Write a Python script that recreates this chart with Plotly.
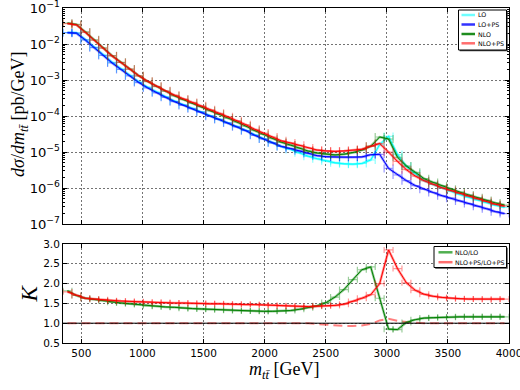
import numpy as np
import plotly.graph_objects as go

# ---------------- data ----------------
m_min, m_max, n_bins = 350.0, 4000.0, 50
edges = np.linspace(m_min, m_max, n_bins + 1)
centers = 0.5 * (edges[:-1] + edges[1:])
half_width = 0.5 * (edges[1:] - edges[:-1])
x_ticks = [500, 1000, 1500, 2000, 2500, 3000, 3500, 4000]
k_ticks = [0.5, 1.0, 1.5, 2.0, 2.5, 3.0]

lo = [2.08e-2, 2.05e-2, 1.33e-2, 8.2e-3, 5.0e-3, 3.1e-3, 2.05e-3, 1.35e-3, 8.9e-4, 6.3e-4,
      4.6e-4, 3.45e-4, 2.6e-4, 2.06e-4, 1.66e-4, 1.33e-4, 1.03e-4, 8.3e-5, 6.6e-5, 5.2e-5,
      4.0e-5, 3.0e-5, 2.35e-5, 1.8e-5, 1.42e-5, 1.18e-5, 9.5e-6, 7.6e-6, 6.5e-6, 5.7e-6,
      5.0e-6, 4.7e-6, 4.6e-6, 4.8e-6, 6.0e-6, 1.6e-5, 2.7e-5, 8.5e-6, 4.0e-6, 2.5e-6,
      1.6e-6, 1.25e-6, 1.0e-6, 8.0e-7, 6.6e-7, 5.5e-7, 4.6e-7, 3.9e-7, 3.3e-7, 2.9e-7]

lo_ps = [2.06e-2, 2.00e-2, 1.29e-2, 7.9e-3, 4.8e-3, 2.97e-3, 1.96e-3, 1.29e-3, 8.5e-4, 6.0e-4,
         4.4e-4, 3.3e-4, 2.5e-4, 1.97e-4, 1.59e-4, 1.28e-4, 9.9e-5, 8.0e-5, 6.4e-5, 5.0e-5,
         3.9e-5, 2.9e-5, 2.3e-5, 1.8e-5, 1.42e-5, 1.25e-5, 1.08e-5, 9.1e-6, 7.9e-6, 7.4e-6,
         7.2e-6, 7.2e-6, 7.2e-6, 7.3e-6, 8.4e-6, 8.6e-6, 3.5e-6, 2.3e-6, 1.6e-6, 1.17e-6,
         9.2e-7, 7.5e-7, 6.1e-7, 5.2e-7, 4.35e-7, 3.7e-7, 3.1e-7, 2.65e-7, 2.2e-7, 1.95e-7]

nlo = [3.79e-2, 3.49e-2, 2.17e-2, 1.31e-2, 7.85e-3, 4.74e-3, 3.10e-3, 2.01e-3, 1.31e-3, 9.07e-4,
       6.58e-4, 4.86e-4, 3.64e-4, 2.84e-4, 2.27e-4, 1.81e-4, 1.39e-4, 1.11e-4, 8.78e-5, 6.86e-5,
       5.24e-5, 3.93e-5, 3.06e-5, 2.34e-5, 1.86e-5, 1.56e-5, 1.28e-5, 1.06e-5, 9.36e-6, 8.66e-6,
       8.30e-6, 8.70e-6, 9.66e-6, 1.13e-5, 1.45e-5, 2.61e-5, 2.30e-5, 7.14e-6, 4.08e-6, 2.73e-6,
       1.81e-6, 1.43e-6, 1.15e-6, 9.2e-7, 7.66e-7, 6.38e-7, 5.34e-7, 4.52e-7, 3.83e-7, 3.36e-7]

nlo_ps = [3.69e-2, 3.40e-2, 2.10e-2, 1.27e-2, 7.63e-3, 4.66e-3, 3.06e-3, 2.00e-3, 1.31e-3, 9.18e-4,
          6.69e-4, 5.02e-4, 3.78e-4, 2.97e-4, 2.39e-4, 1.92e-4, 1.48e-4, 1.19e-4, 9.47e-5, 7.40e-5,
          5.73e-5, 4.26e-5, 3.36e-5, 2.61e-5, 2.04e-5, 1.79e-5, 1.53e-5, 1.29e-5, 1.13e-5, 1.07e-5,
          1.04e-5, 1.07e-5, 1.12e-5, 1.19e-5, 1.44e-5, 1.72e-5, 9.98e-6, 5.47e-6, 3.23e-6, 2.14e-6,
          1.59e-6, 1.26e-6, 1.01e-6, 8.48e-7, 7.05e-7, 5.96e-7, 4.99e-7, 4.24e-7, 3.52e-7, 3.14e-7]

k_nlo_lo = [1.82, 1.70, 1.63, 1.60, 1.57, 1.53, 1.51, 1.49, 1.47, 1.44,
            1.43, 1.41, 1.40, 1.38, 1.37, 1.36, 1.35, 1.34, 1.33, 1.32,
            1.31, 1.31, 1.30, 1.30, 1.31, 1.32, 1.35, 1.39, 1.44, 1.52,
            1.66, 1.85, 2.10, 2.35, 2.42, 1.63, 0.85, 0.84, 1.02, 1.09,
            1.13, 1.14, 1.15, 1.15, 1.16, 1.16, 1.16, 1.16, 1.16, 1.16]

k_nlops_lops = [1.79, 1.70, 1.63, 1.61, 1.59, 1.57, 1.56, 1.55, 1.54, 1.53,
                1.52, 1.52, 1.51, 1.51, 1.50, 1.50, 1.49, 1.49, 1.48, 1.48,
                1.47, 1.47, 1.46, 1.45, 1.44, 1.43, 1.42, 1.42, 1.43, 1.44,
                1.45, 1.48, 1.55, 1.63, 1.72, 2.00, 2.85, 2.38, 2.02, 1.83,
                1.73, 1.68, 1.65, 1.63, 1.62, 1.61, 1.61, 1.60, 1.60, 1.61]

k_ps_ratio = [1.0] * 28 + [0.98, 0.96, 0.94, 0.93, 0.93, 0.94, 0.98, 1.07, 1.11, 1.06,
                           1.03, 1.01] + [1.0] * 10

top_series = [("LO", lo, "#00ffff", "rgba(0,255,255,0.45)", "rgba(110,255,255,1)"),
              ("LO+PS", lo_ps, "#0000ff", "rgba(0,0,255,0.4)", "rgba(50,50,255,1)"),
              ("NLO", nlo, "#008000", "rgba(0,128,0,0.4)", "rgba(30,140,30,1)"),
              ("NLO+PS", nlo_ps, "#ff0000", "rgba(255,0,0,0.4)", "rgba(255,110,110,1)")]
bottom_series = [("NLO/LO", k_nlo_lo, "#008000", "rgba(0,128,0,0.4)", "rgba(80,175,80,1)"),
                 ("NLO+PS/LO+PS", k_nlops_lops, "#ff0000", "rgba(255,0,0,0.4)", "rgba(255,110,110,1)")]

# ---------------- figure ----------------
W, H = 520, 390
ML, MR, MT, MB = 63, 11, 8, 47
PW, PH = W - ML - MR, H - MT - MB


def px(x):
    return (x - ML) / PW


def py(y):
    return (H - MB - y) / PH


fig = go.Figure()

for name, vals, col, band, _ in top_series:
    fig.add_trace(go.Scatter(x=centers, y=vals, mode="lines", xaxis="x", yaxis="y",
                             line=dict(color=band, width=2.5), showlegend=False, hoverinfo="skip"))
    fig.add_trace(go.Scatter(x=centers, y=vals, mode="lines", xaxis="x", yaxis="y", name=name,
                             line=dict(color=col, width=1),
                             error_x=dict(type="data", array=half_width, symmetric=True,
                                          color=band, thickness=1.2, width=4),
                             showlegend=False))

fig.add_trace(go.Scatter(x=centers, y=k_ps_ratio, mode="lines", xaxis="x2", yaxis="y2",
                         line=dict(color="rgba(255,0,0,0.5)", width=2, dash="9px,5px"),
                         showlegend=False, hoverinfo="skip"))
for name, vals, col, band, _ in bottom_series:
    fig.add_trace(go.Scatter(x=centers, y=vals, mode="lines", xaxis="x2", yaxis="y2",
                             line=dict(color=band, width=2.5), showlegend=False, hoverinfo="skip"))
    fig.add_trace(go.Scatter(x=centers, y=vals, mode="lines", xaxis="x2", yaxis="y2", name=name,
                             line=dict(color=col, width=1),
                             error_x=dict(type="data", array=half_width, symmetric=True,
                                          color=band, thickness=1.2, width=3),
                             showlegend=False))

tickfont = dict(family="DejaVu Sans", size=10.5, color="black")
grid = dict(showgrid=True, gridcolor="rgba(0,0,0,0.55)", griddash="2px,2px", gridwidth=1)
common = dict(showline=True, linecolor="black", linewidth=1, mirror="allticks",
              ticks="inside", ticklen=4, tickcolor="black", zeroline=False, tickfont=tickfont,
              ticklabeloverflow="allow")

h_top0 = py(224)
h_bot1 = py(244)

fig.update_layout(
    width=W, height=H, margin=dict(l=ML, r=MR, t=MT, b=MB, autoexpand=False),
    paper_bgcolor="white", plot_bgcolor="white", showlegend=False,
    xaxis=dict(domain=[0, 1], anchor="y", range=[m_min, m_max], tickvals=x_ticks,
               showticklabels=False, **grid, **common),
    yaxis=dict(domain=[h_top0, 1], anchor="x", type="log", range=[-7, -1], dtick=1,
               exponentformat="power", showexponent="all",
               minor=dict(ticks="inside", ticklen=2, tickcolor="black", dtick="D1", showgrid=False),
               **grid, **common),
    xaxis2=dict(domain=[0, 1], anchor="y2", range=[m_min, m_max], tickvals=x_ticks,
                ticktext=[str(v) for v in x_ticks], **grid, **common),
    yaxis2=dict(domain=[0, h_bot1], anchor="x2", range=[0.5, 3.0], tickvals=k_ticks,
                ticktext=["%.1f" % v for v in k_ticks], **grid, **common),
)

shapes = [dict(type="line", xref="x2 domain", yref="y2", x0=0, x1=1, y0=1, y1=1,
               line=dict(color="black", width=1))]
annotations = []


def add_legend(box, rows, sample_x, text_x, entries):
    x0, y0, x1, y1 = box
    shapes.append(dict(type="rect", xref="paper", yref="paper", x0=px(x0 + 1.2), x1=px(x1 + 1.2),
                       y0=py(y0 + 1.2), y1=py(y1 + 1.2), line=dict(width=0), fillcolor="#444",
                       layer="above"))
    shapes.append(dict(type="rect", xref="paper", yref="paper", x0=px(x0), x1=px(x1),
                       y0=py(y0), y1=py(y1), line=dict(color="black", width=1),
                       fillcolor="white", layer="above"))
    for ry, (name, _, _, _, lcol) in zip(rows, entries):
        shapes.append(dict(type="line", xref="paper", yref="paper", x0=px(sample_x[0]),
                           x1=px(sample_x[1]), y0=py(ry), y1=py(ry),
                           line=dict(color=lcol, width=2.5), layer="above"))
        annotations.append(dict(xref="paper", yref="paper", x=px(text_x), y=py(ry), text=name,
                                showarrow=False, xanchor="left", yanchor="middle", borderpad=0,
                                font=dict(family="DejaVu Sans", size=6.3, color="black")))


add_legend((458.5, 10, 506.5, 50), [15, 24.5, 34, 43.3], (461.5, 475), 476.5, top_series)
add_legend((434, 246.5, 506.5, 267.5), [252.3, 262.2], (438.5, 452.5), 453.5, bottom_series)

title_font = dict(family="Liberation Serif", size=18, color="black")
annotations.append(dict(xref="paper", yref="paper", x=px(20), y=py(115), textangle=-90,
                        text="<i>dσ</i>/<i>dm</i><sub><i>tt̄</i></sub> [pb/GeV]",
                        showarrow=False, xanchor="center", yanchor="middle", font=title_font))
annotations.append(dict(xref="paper", yref="paper", x=px(29), y=py(293.5), textangle=-90,
                        text="<i>K</i>", showarrow=False, xanchor="center", yanchor="middle",
                        font=dict(family="Liberation Serif", size=23, color="black")))
annotations.append(dict(xref="paper", yref="paper", x=px(284), y=py(370),
                        text="<i>m</i><sub><i>tt̄</i></sub> [GeV]",
                        showarrow=False, xanchor="center", yanchor="middle", font=title_font))

fig.update_layout(shapes=shapes, annotations=annotations)
fig.write_html("out.html", config={"displayModeBar": False},
               post_script="document.body.style.margin='0';"
                           "document.documentElement.style.overflow='hidden';")
